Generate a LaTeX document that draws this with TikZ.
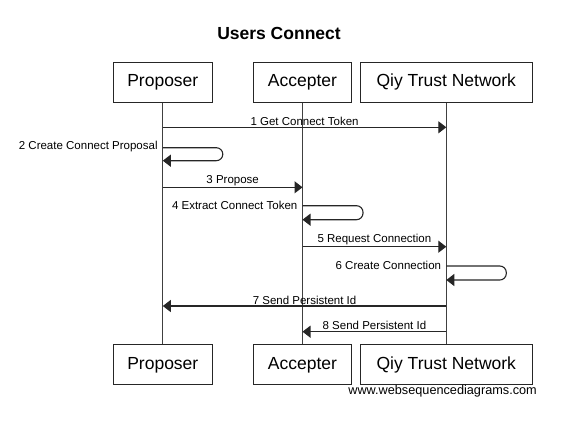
\documentclass[tikz,border=0pt]{standalone}
\usepackage{fontspec}
\setmainfont{Liberation Sans}
\usetikzlibrary{arrows.meta}
\begin{document}
\begin{tikzpicture}[x=1pt,y=-1pt,
  actor/.style={draw=black!85, line width=1pt, minimum height=40pt, inner sep=0pt, font=\fontsize{17.5}{20}\selectfont},
  life/.style={draw=black!75, line width=1.1pt},
  msg/.style={draw=black!85, line width=1.1pt, -{Triangle[length=8pt,width=12pt]}},
  loopmsg/.style={msg, rounded corners=6.5pt},
  lbl/.style={font=\fontsize{11.5}{13}\selectfont, inner sep=1pt},
]
\useasboundingbox (0,0) rectangle (569,426);
\node[font=\bfseries\fontsize{17.5}{20}\selectfont] (title) at (279,33.5) {Users Connect};

\node[actor, minimum width=99pt] (pt) at (162.8,82) {Proposer};
\node[actor, minimum width=98.5pt] (at) at (302.5,82) {Accepter};
\node[actor, minimum width=172pt] (qt) at (446.3,82) {Qiy Trust Network};
\node[actor, minimum width=99pt] (pb) at (162.8,364.8) {Proposer};
\node[actor, minimum width=98.5pt] (ab) at (302.5,364.8) {Accepter};
\node[actor, minimum width=172pt] (qb) at (446.3,364.8) {Qiy Trust Network};

\draw[life] (pt.south) -- (pb.north);
\draw[life] (at.south) -- (ab.north);
\draw[life] (qt.south) -- (qb.north);

% message coordinates
\coordinate (p1) at (pt.south |- 0,127.3);
\coordinate (q1) at (qt.south |- 0,127.3);
\coordinate (p2a) at (pt.south |- 0,147.7);
\coordinate (p2b) at (pt.south |- 0,160.7);
\coordinate (p3) at (pt.south |- 0,187.3);
\coordinate (a3) at (at.south |- 0,187.3);
\coordinate (a4a) at (at.south |- 0,205.7);
\coordinate (a4b) at (at.south |- 0,219.7);
\coordinate (a5) at (at.south |- 0,246.7);
\coordinate (q5) at (qt.south |- 0,246.7);
\coordinate (q6a) at (qt.south |- 0,266);
\coordinate (q6b) at (qt.south |- 0,280);
\coordinate (q7) at (qt.south |- 0,306);
\coordinate (p7) at (pt.south |- 0,306);
\coordinate (q8) at (qt.south |- 0,331.7);
\coordinate (a8) at (at.south |- 0,331.7);

\draw[msg] (p1) -- node[lbl, above=0.3pt] (m1) {1 Get Connect Token} (q1);
\draw[loopmsg] (p2a) -- ++(60,0) -- ++(0,13) -- (p2b);
\node[lbl, anchor=east] (m2) at ([xshift=-4pt,yshift=1pt]p2a) {2 Create Connect Proposal};
\draw[msg] (p3) -- node[lbl, above=0.3pt] (m3) {3 Propose} (a3);
\draw[loopmsg] (a4a) -- ++(60.5,0) -- ++(0,14) -- (a4b);
\node[lbl, anchor=east] (m4) at ([xshift=-4pt,yshift=0.5pt]a4a) {4 Extract Connect Token};
\draw[msg] (a5) -- node[lbl, above=0.3pt] (m5) {5 Request Connection} (q5);
\draw[loopmsg] (q6a) -- ++(60,0) -- ++(0,14) -- (q6b);
\node[lbl, anchor=east] (m6) at ([xshift=-4pt,yshift=0.5pt]q6a) {6 Create Connection};
\draw[msg] (q7) -- node[lbl, above=0.3pt] (m7) {7 Send Persistent Id} (p7);
\draw[msg] (q8) -- node[lbl, above=0.3pt] (m8) {8 Send Persistent Id} (a8);

\node[font=\fontsize{12.7}{14}\selectfont, inner sep=0pt, anchor=east] (wsd) at (537,391.7) {www.websequencediagrams.com};
\end{tikzpicture}
\end{document}
